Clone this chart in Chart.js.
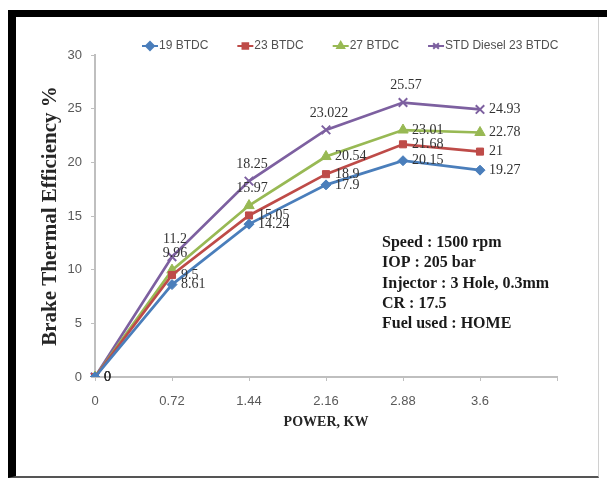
<!DOCTYPE html>
<html><head><meta charset="utf-8">
<script src="https://cdn.jsdelivr.net/npm/chart.js@4"></script>
<style>
html,body{margin:0;padding:0;background:#fff;}
#wrap{position:relative;width:607px;height:479px;overflow:hidden;background:#fff;}
#frame{position:absolute;left:8px;top:10px;width:582px;height:459px;border-top:7px solid #000;border-left:8px solid #000;border-right:1px solid #d0d0d0;border-bottom:2px solid #555;}
#topbar{position:absolute;left:8px;top:10px;width:599px;height:7px;background:#000;}
#c{position:absolute;left:0;top:0;}
</style></head>
<body>
<div id="wrap"><div id="frame"></div><div id="topbar"></div><canvas id="c" width="607" height="479"></canvas></div>
<script>
const xLabels = ['0','0.72','1.44','2.16','2.88','3.6',''];
const seriesNames = ['19 BTDC','23 BTDC','27 BTDC','STD Diesel 23 BTDC'];
const btdc19 = [0, 8.61, 14.24, 17.9, 20.15, 19.27];
const btdc23 = [0, 9.5, 15.05, 18.9, 21.68, 21];
const btdc27 = [0, 9.96, 15.97, 20.54, 23.01, 22.78];
const stdDiesel = [0, 11.2, 18.25, 23.022, 25.57, 24.93];
const yTicks = [0, 5, 10, 15, 20, 25, 30];
const notes = ['Speed : 1500 rpm','IOP : 205 bar','Injector : 3 Hole, 0.3mm','CR : 17.5','Fuel used : HOME'];
const yTitle = 'Brake Thermal Efficiency %';
const xTitle = 'POWER, KW';

function mk(label, data, color, style, radius, bw, pos){
  return {label, data, borderColor:color, backgroundColor:color, pointBackgroundColor:color,
    pointBorderColor:color, pointStyle:style, pointRadius:radius, pointBorderWidth:bw,
    borderWidth:2.7, tension:0, fill:false, labelPos:pos};
}
const R='right', A='above';
const datasets = [
  mk(seriesNames[0], btdc19, '#4A7EBB', 'rectRot', 5, 1, [R,R,R,R,R,R]),
  mk(seriesNames[1], btdc23, '#BE4B48', 'rect', 5, 1, [R,R,R,R,R,R]),
  mk(seriesNames[2], btdc27, '#98B954', 'triangle', 6, 1, [R,A,A,R,R,R]),
  mk(seriesNames[3], stdDiesel, '#7D60A0', 'crossRot', 6, 2, [R,A,A,A,A,R])
];

const labelPlugin = {
  id:'pointLabels',
  afterDatasetsDraw(chart){
    const ctx = chart.ctx;
    ctx.save();
    ctx.font = '14px "Liberation Serif"';
    ctx.fillStyle = '#333333';
    ctx.textBaseline = 'middle';
    chart.data.datasets.forEach((ds,i)=>{
      const meta = chart.getDatasetMeta(i);
      meta.data.forEach((pt,j)=>{
        const txt = String(ds.data[j]);
        if (ds.labelPos[j] === 'above') { ctx.textAlign='center'; ctx.fillText(txt, pt.x+3, pt.y-17); }
        else { ctx.textAlign='left'; ctx.fillText(txt, pt.x+9, pt.y); }
      });
    });
    ctx.restore();
  }
};

const legendPlugin = {
  id:'customLegend',
  afterDraw(chart){
    const ctx = chart.ctx, ca = chart.chartArea;
    ctx.save();
    ctx.font = '12px "Liberation Sans"';
    ctx.textBaseline = 'middle';
    ctx.textAlign = 'left';
    let x = ca.left + 47;
    const y = ca.top - 9;
    chart.data.datasets.forEach(ds=>{
      ctx.strokeStyle = ds.borderColor; ctx.fillStyle = ds.borderColor; ctx.lineWidth = 2;
      ctx.beginPath(); ctx.moveTo(x, y); ctx.lineTo(x+16, y); ctx.stroke();
      Chart.helpers.drawPoint(ctx, {pointStyle: ds.pointStyle, radius: 4, borderWidth: ds.pointBorderWidth, rotation:0}, x+8, y);
      ctx.fillStyle = '#505050';
      ctx.fillText(ds.label, x+17, y);
      x += 17 + ctx.measureText(ds.label).width + 29;
    });
    ctx.restore();
  }
};

const notesPlugin = {
  id:'notes',
  afterDraw(chart){
    const ctx = chart.ctx, ca = chart.chartArea;
    ctx.save();
    ctx.font = 'bold 16px "Liberation Serif"';
    ctx.fillStyle = '#1a1a1a';
    ctx.textBaseline = 'middle';
    ctx.textAlign = 'left';
    notes.forEach((t,i)=> ctx.fillText(t, ca.left + 287, ca.top + 188 + i*20.3));
    ctx.restore();
  }
};

new Chart(document.getElementById('c'), {
  type:'line',
  data:{labels:xLabels, datasets},
  options:{
    responsive:false, animation:false, devicePixelRatio:1,
    layout:{padding:{left:38, top:55, right:50, bottom:40}},
    plugins:{legend:{display:false}, tooltip:{enabled:false}},
    scales:{
      x:{type:'category', offset:false,
        grid:{display:true, drawOnChartArea:false, drawTicks:true, tickLength:4, color:'#bfbfbf'},
        border:{display:true, color:'#bfbfbf', width:2},
        ticks:{color:'#595959', font:{family:'Liberation Sans', size:13}, padding:13, maxRotation:0, autoSkip:false},
        title:{display:true, text:xTitle, color:'#262626', font:{family:'Liberation Serif', size:14, weight:'bold'}, padding:{top:4, bottom:8}},
        afterFit(s){ s.height = 62; }
      },
      y:{min:0, max:30,
        afterBuildTicks(s){ s.ticks = yTicks.map(v=>({value:v})); },
        grid:{display:true, drawOnChartArea:false, drawTicks:true, tickLength:4, color:'#bfbfbf'},
        border:{display:true, color:'#bfbfbf', width:2},
        ticks:{color:'#595959', font:{family:'Liberation Sans', size:13}, padding:9},
        title:{display:true, text:yTitle, color:'#262626', font:{family:'Liberation Serif', size:21, weight:'bold'}, padding:{top:0, bottom:0}},
        afterFit(s){ s.width = 57; }
      }
    }
  },
  plugins:[labelPlugin, legendPlugin, notesPlugin]
});
</script>
</body></html>
